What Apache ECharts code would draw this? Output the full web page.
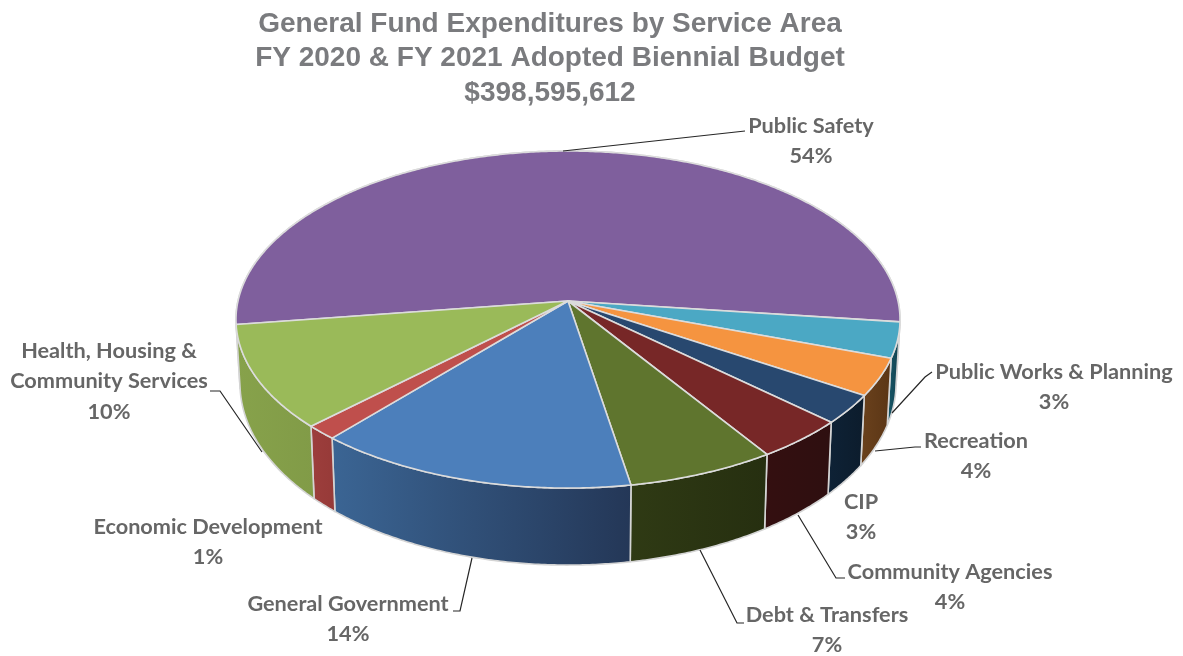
<!DOCTYPE html>
<html>
<head>
<meta charset="utf-8">
<style>html,body{margin:0;padding:0;background:#fff}#c{width:1183px;height:656px}</style>
<script src="https://cdn.jsdelivr.net/npm/echarts@6/dist/echarts.min.js"></script>
</head>
<body>
<div id="c"></div>
<script>
const titleLines = ["General Fund Expenditures by Service Area", "FY 2020 & FY 2021 Adopted Biennial Budget", "$398,595,612"];
const categories = ["Public Safety", "Public Works & Planning", "Recreation", "CIP", "Community Agencies", "Debt & Transfers", "General Government", "Economic Development", "Health, Housing &\nCommunity Services"];
const shares = [54.2, 3.4, 3.6, 2.8, 4.0, 6.5, 14.1, 1.4, 10.0];

// styling, kept apart from the data
const topColors = ["#7f5f9d", "#4ba8c4", "#f59440", "#28486f", "#772727", "#5f752e", "#4c7fbb", "#bf4f4c", "#9aba59"];
const wallFrom = ["#5f4776", "#17596b", "#6b421d", "#0e2236", "#340f10", "#2f3a14", "#3b6594", "#9d3e3c", "#87a24b"];
const wallTo = ["#5f4776", "#123f4c", "#5a3515", "#0c1c2c", "#2e0f10", "#262f10", "#243757", "#963a38", "#819b47"];
const labelCenters = [[811, 126], [1054, 372], [976, 441], [861, 502], [950, 572], [827, 615], [348, 604], [208, 527], [109, 351]];
const leaders = [
  [[563, 151], [745, 131]],
  [[892, 413], [925, 377], [932, 372]],
  [[875, 451], [915, 447], [921, 447]],
  null,
  [[798, 515], [836, 578], [845, 578]],
  [[700, 550], [737, 623], [744, 623]],
  [[472, 558], [460, 611], [453, 611]],
  null,
  [[262, 452], [220, 391], [210, 391]]
];

// perspective projection of the pie disc
const P = { cx: 568, cy: 301, A: 330, B: 166.5, k: 0.11, start: 262, shrink: 0.988, h0: 62, h1: 15 };
const total = shares.reduce((a, b) => a + b, 0);
const edges = [P.start];
shares.forEach(s => edges.push(edges[edges.length - 1] + s / total * 360));

function upperRim(phi) {
  const r = phi * Math.PI / 180, u = Math.sin(r), v = -Math.cos(r), d = 1 - P.k * v;
  return [P.cx + P.A * u / d, P.cy + P.B * v / d, v];
}
function lowerRim(phi) {
  const t = upperRim(phi);
  return [P.cx + (t[0] - P.cx) * P.shrink, t[1] + P.h0 + P.h1 * t[2]];
}
function arc(fn, a, b) {
  const n = Math.max(2, Math.ceil((b - a) / 0.5)), out = [];
  for (let j = 0; j <= n; j++) { const p = fn(a + (b - a) * j / n); out.push([p[0], p[1]]); }
  return out;
}

const wallSeries = {
  type: "custom", coordinateSystem: "none", silent: true, z: 1, animation: false,
  data: shares,
  renderItem(params) {
    const i = params.dataIndex, a = edges[i], b = edges[i + 1];
    return {
      type: "polygon",
      shape: { points: arc(upperRim, a, b).concat(arc(lowerRim, a, b).reverse()) },
      style: {
        fill: { type: "linear", x: 0, y: 0, x2: 1, y2: 0, colorStops: [{ offset: 0, color: wallFrom[i] }, { offset: 1, color: wallTo[i] }] },
        stroke: "#d4d4d4", lineWidth: 1.6, lineJoin: "round"
      }
    };
  }
};
const topSeries = {
  type: "custom", coordinateSystem: "none", silent: true, z: 2, animation: false,
  data: shares,
  renderItem(params) {
    const i = params.dataIndex;
    return {
      type: "polygon",
      shape: { points: [[P.cx, P.cy]].concat(arc(upperRim, edges[i], edges[i + 1])) },
      style: { fill: topColors[i], stroke: "#dcdcdc", lineWidth: 1.6, lineJoin: "round" }
    };
  }
};
const labelSeries = {
  type: "custom", coordinateSystem: "none", silent: true, z: 3, animation: false,
  data: shares,
  renderItem(params, api) {
    const i = params.dataIndex, c = labelCenters[i], kids = [];
    if (leaders[i]) kids.push({ type: "polyline", shape: { points: leaders[i] }, style: { stroke: "#262626", lineWidth: 1.2, fill: null } });
    const lines = categories[i].split("\n").concat(Math.round(api.value(0)) + "%");
    lines.forEach((t, j) => kids.push({
      type: "text",
      style: { text: t, x: c[0], y: c[1] + j * 30.5, align: "center", verticalAlign: "middle", fill: "#666666", font: "bold 21.7px Lato" }
    }));
    return { type: "group", children: kids };
  }
};

const chart = echarts.init(document.getElementById("c"), null, { renderer: "canvas" });
chart.setOption({
  backgroundColor: "#ffffff",
  animation: false,
  title: {
    text: titleLines.join("\n"), left: 545, top: 2, textAlign: "center",
    textStyle: { fontFamily: "Liberation Sans", fontWeight: "bold", fontSize: 28, lineHeight: 34.5, color: "#7a7b7e" }
  },
  series: [wallSeries, topSeries, labelSeries]
});
</script>
</body>
</html>
